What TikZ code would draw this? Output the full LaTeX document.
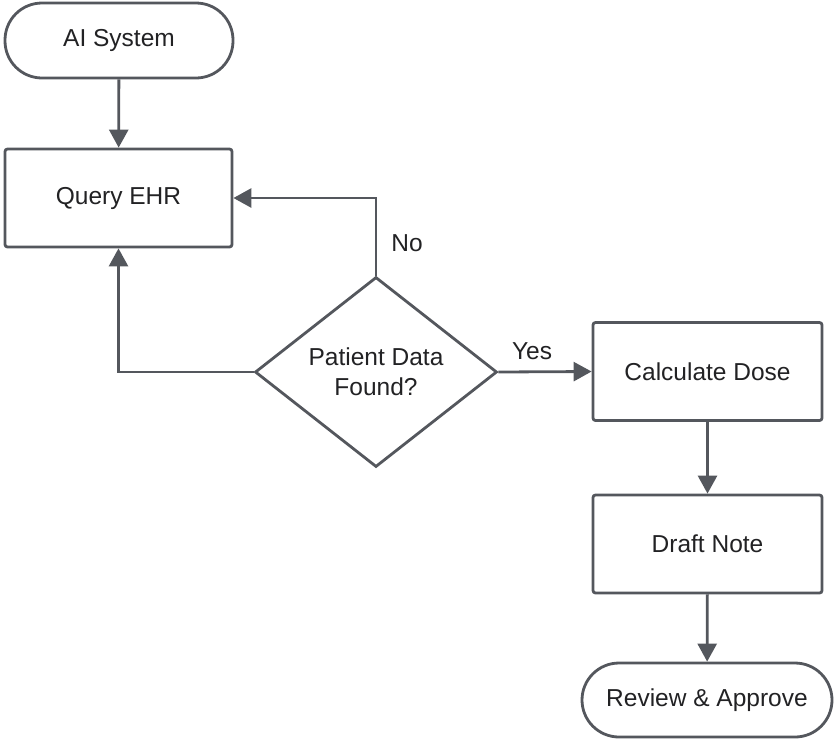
\documentclass[tikz,border=0pt]{standalone}
\usepackage{fontspec}
\setmainfont{Liberation Sans}
\usetikzlibrary{arrows.meta,shapes.geometric}
\definecolor{lc}{RGB}{84,87,93}
\definecolor{tc}{RGB}{34,34,36}
\begin{document}
\begin{tikzpicture}[x=1pt,y=-1pt,
  txt/.style={font=\fontsize{24.5}{30}\selectfont, text=tc},
  base/.style={draw=lc, line width=2.8pt, fill=white, inner sep=0pt, txt, align=center},
  box/.style={base, rectangle, rounded corners=2.5pt, minimum width=227pt, minimum height=98pt},
  pill/.style={base, rectangle, rounded corners=37pt, minimum height=75pt},
  dec/.style={base, diamond, aspect=1.27, minimum width=242pt, minimum height=190pt},
  arr/.style={draw=lc, line width=2.8pt, -{Triangle[length=18pt,width=19pt]}},
  lab/.style={txt}]
\useasboundingbox (0,0) rectangle (834,740);
\node[pill, minimum width=228pt] (ai) at (119,40.5) {AI System};
\node[box] (q) at (118.5,198) {Query EHR};
\node[dec] (d) at (376,372) {Patient Data\\Found?};
\node[box, minimum width=229pt] (c) at (707.5,371.5) {Calculate Dose};
\node[box, minimum width=229pt] (dn) at (707.5,544) {Draft Note};
\node[pill, minimum width=250pt, minimum height=74pt] (r) at (707,700) {Review \& Approve};
\draw[arr] (ai) -- (q);
\draw[arr] (d.north) |- (q.east);
\draw[arr] (d.west) -| (q.south);
\draw[arr] (d.east) -- (c.west);
\draw[arr] (c) -- (dn);
\draw[arr] (dn) -- (r);
\node[lab] (no) at (407,243) {No};
\node[lab] (yes) at (532,351) {Yes};
\end{tikzpicture}
\end{document}
